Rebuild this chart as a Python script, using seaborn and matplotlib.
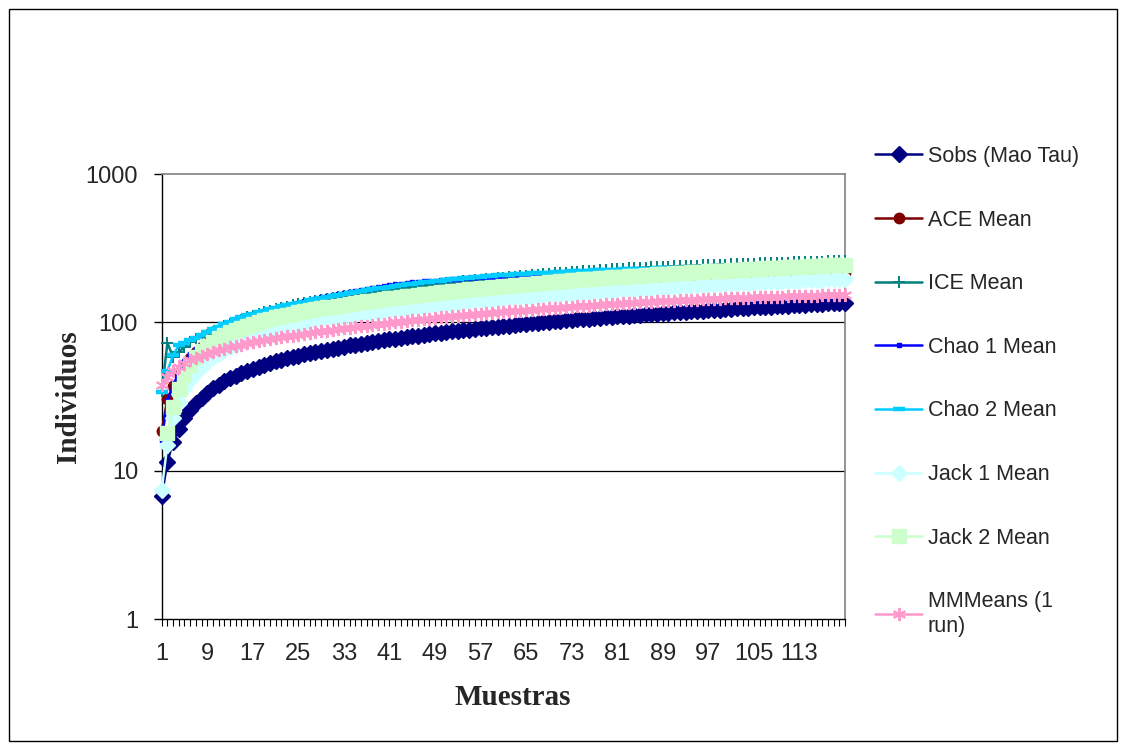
import numpy as np
import pandas as pd
import matplotlib
matplotlib.use("Agg")
import matplotlib.pyplot as plt
import seaborn as sns
from matplotlib.lines import Line2D
from matplotlib.patches import Rectangle
from matplotlib.ticker import FixedLocator, FixedFormatter, NullFormatter

samples = list(range(1, 122))

sobs = [6.7, 11.5, 15.6, 19.2, 22.6, 25.7, 28.6, 31.1, 33.6, 35.9,
        38.0, 40.0, 41.9, 43.7, 45.4, 47.1, 48.7, 50.3, 51.8, 53.2,
        54.6, 55.9, 57.1, 58.4, 59.6, 60.8, 62.0, 63.2, 64.3, 65.4,
        66.5, 67.6, 68.7, 69.8, 70.8, 71.8, 72.9, 73.9, 74.9, 75.8,
        76.8, 77.8, 78.7, 79.7, 80.6, 81.5, 82.4, 83.3, 84.2, 85.1,
        86.0, 86.9, 87.7, 88.6, 89.4, 90.3, 91.1, 91.9, 92.8, 93.6,
        94.4, 95.2, 96.0, 96.8, 97.6, 98.4, 99.2, 99.9, 100.7, 101.5,
        102.2, 103.0, 103.7, 104.5, 105.2, 106.0, 106.7, 107.4, 108.1, 108.9,
        109.6, 110.3, 111.0, 111.7, 112.4, 113.1, 113.8, 114.5, 115.2, 115.9,
        116.6, 117.3, 118.0, 118.6, 119.3, 120.0, 120.6, 121.3, 122.0, 122.6,
        123.3, 124.0, 124.6, 125.3, 125.9, 126.5, 127.2, 127.8, 128.5, 129.1,
        129.7, 130.4, 131.0, 131.6, 132.3, 132.9, 133.5, 134.1, 134.7, 135.3,
        136.0]

ace = [18.4, 30.6, 37.0, 44.5, 51.5, 57.3, 62.9, 67.8, 72.7, 77.2,
       81.4, 85.4, 89.2, 92.7, 96.0, 99.2, 102.3, 105.0, 107.6, 109.9,
       112.1, 114.1, 116.0, 117.9, 119.7, 121.4, 123.1, 124.7, 126.2, 127.5,
       129.1, 130.8, 132.4, 133.9, 135.4, 136.7, 138.2, 139.5, 140.9, 142.0,
       143.2, 144.6, 145.6, 146.9, 148.0, 149.1, 150.2, 151.3, 152.3, 153.4,
       154.4, 155.5, 156.3, 157.3, 158.1, 159.0, 159.9, 160.6, 161.6, 162.3,
       163.0, 163.7, 164.5, 165.2, 165.9, 167.1, 168.3, 169.3, 170.6, 171.7,
       172.7, 174.0, 174.9, 176.2, 177.2, 178.3, 179.4, 180.3, 181.4, 182.5,
       183.5, 184.5, 185.5, 186.5, 187.5, 188.4, 189.5, 190.4, 191.5, 192.4,
       193.3, 194.2, 195.2, 195.9, 196.8, 197.8, 198.5, 199.4, 200.3, 201.1,
       202.0, 202.9, 203.6, 204.5, 205.2, 205.7, 206.3, 206.9, 207.5, 208.0,
       208.4, 209.2, 209.6, 210.0, 210.6, 211.2, 211.6, 212.0, 212.4, 213.0,
       213.5]

ice = [34.2, 72.5, 58.5, 63.4, 67.8, 73.2, 77.2, 79.3, 82.3, 86.2,
       90.3, 94.0, 97.8, 101.3, 104.4, 107.9, 111.0, 114.2, 117.1, 119.7,
       122.6, 125.2, 127.6, 130.2, 132.6, 135.0, 137.3, 139.7, 141.8, 143.9,
       146.0, 148.0, 150.1, 152.2, 154.0, 155.8, 157.8, 159.6, 161.4, 163.0,
       165.0, 167.0, 168.9, 170.9, 172.7, 174.5, 176.3, 178.1, 179.9, 181.7,
       183.5, 185.3, 186.9, 188.6, 190.2, 192.0, 193.6, 195.1, 196.9, 198.4,
       199.9, 201.5, 203.0, 204.5, 206.1, 207.6, 209.1, 210.5, 212.0, 213.5,
       214.8, 216.3, 217.6, 219.1, 220.4, 221.9, 223.2, 224.5, 225.7, 227.3,
       228.5, 229.8, 231.1, 232.3, 233.2, 234.1, 235.0, 235.9, 236.7, 237.6,
       238.4, 239.3, 240.1, 240.8, 241.6, 242.4, 243.0, 243.8, 244.6, 245.2,
       246.1, 246.9, 247.6, 248.3, 249.0, 249.6, 250.5, 251.0, 251.9, 252.4,
       253.0, 253.8, 254.4, 254.9, 255.7, 256.2, 256.9, 257.3, 258.0, 258.4,
       259.8]

chao1 = [16.0, 29.9, 37.0, 46.5, 54.5, 61.2, 66.6, 71.2, 74.6, 77.2,
         82.1, 86.8, 91.3, 95.7, 99.9, 104.1, 108.1, 112.2, 116.0, 119.7,
         123.1, 126.3, 129.3, 132.6, 135.6, 138.6, 141.7, 144.7, 147.6, 150.4,
         153.1, 155.7, 158.4, 161.0, 163.4, 165.8, 168.5, 170.9, 173.3, 175.5,
         177.9, 180.3, 182.6, 184.3, 185.7, 187.1, 188.5, 189.9, 191.3, 192.6,
         193.9, 195.3, 196.3, 197.6, 198.7, 199.8, 200.9, 201.9, 203.0, 204.0,
         205.1, 206.2, 207.2, 208.2, 209.3, 210.3, 211.3, 212.0, 213.0, 214.0,
         214.7, 215.7, 216.3, 217.3, 218.0, 218.9, 219.6, 220.2, 220.8, 221.7,
         222.4, 223.0, 223.6, 224.2, 224.8, 225.3, 225.8, 226.3, 226.7, 227.2,
         227.6, 228.0, 228.4, 228.7, 229.1, 229.4, 229.6, 230.0, 230.3, 230.5,
         231.1, 231.6, 231.9, 232.4, 232.8, 233.1, 233.7, 234.0, 234.4, 234.7,
         235.0, 235.5, 235.8, 236.1, 236.4, 236.7, 237.0, 237.2, 237.5, 237.6,
         238.0]

chao2 = [34.0, 47.0, 60.0, 70.0, 72.0, 76.0, 79.0, 82.0, 86.0, 90.0,
         93.5, 97.0, 101.1, 104.8, 108.1, 111.4, 114.4, 117.3, 120.0, 122.4,
         125.3, 128.0, 130.5, 133.2, 135.6, 138.0, 140.4, 142.8, 145.0, 147.2,
         149.8, 152.3, 154.9, 157.5, 159.9, 162.2, 164.8, 167.2, 169.6, 171.7,
         174.1, 176.5, 178.6, 180.7, 182.5, 184.3, 186.0, 187.8, 189.5, 191.3,
         193.1, 194.8, 196.4, 198.1, 199.5, 201.3, 202.8, 204.3, 206.0, 207.1,
         208.3, 209.4, 210.5, 211.6, 212.7, 213.7, 214.8, 215.6, 216.7, 217.7,
         218.5, 219.5, 220.3, 221.2, 222.1, 223.0, 223.7, 224.5, 225.2, 226.1,
         226.9, 227.5, 228.2, 228.9, 229.5, 230.0, 230.6, 231.1, 231.4, 231.9,
         232.4, 232.8, 233.3, 233.5, 233.9, 234.4, 234.6, 234.8, 235.2, 235.4,
         235.9, 236.5, 236.7, 237.2, 237.6, 237.8, 238.2, 238.6, 239.0, 239.2,
         239.6, 239.9, 240.1, 240.4, 240.8, 240.9, 241.2, 241.4, 241.5, 241.8,
         242.1]

jack1 = [7.4, 15.0, 22.6, 29.2, 35.3, 40.6, 45.8, 50.1, 54.4, 58.2,
         61.6, 64.8, 67.9, 70.8, 73.5, 76.3, 78.9, 81.5, 83.9, 86.2,
         88.4, 90.5, 92.4, 94.5, 96.4, 98.3, 100.2, 102.1, 103.8, 105.3,
         106.7, 108.2, 109.6, 111.1, 112.4, 113.6, 115.0, 116.2, 117.4, 118.5,
         119.7, 121.0, 122.0, 123.5, 124.7, 126.0, 127.2, 128.5, 129.8, 131.1,
         132.4, 133.6, 134.7, 135.9, 137.1, 138.2, 139.4, 140.5, 141.7, 142.8,
         143.9, 145.0, 146.0, 147.1, 148.3, 149.3, 150.4, 151.2, 152.4, 153.4,
         154.3, 155.4, 156.3, 157.4, 158.2, 159.3, 160.2, 161.1, 162.0, 163.0,
         164.0, 164.8, 165.7, 166.5, 167.5, 168.4, 169.3, 170.3, 171.2, 172.0,
         172.9, 173.8, 174.8, 175.5, 176.4, 177.4, 178.1, 179.0, 180.0, 180.6,
         181.5, 182.4, 183.2, 184.1, 184.8, 185.6, 186.5, 187.1, 188.0, 188.7,
         189.5, 190.4, 191.1, 191.9, 192.8, 193.5, 194.1, 194.8, 195.6, 196.3,
         197.2]

jack2 = [np.nan, 17.9, 27.0, 35.5, 44.1, 51.4, 58.1, 63.8, 68.9, 73.6,
         77.9, 82.0, 85.5, 88.7, 91.7, 94.7, 97.4, 100.3, 103.0, 105.5,
         108.0, 110.2, 112.3, 114.5, 116.6, 118.6, 120.5, 122.5, 124.2, 126.0,
         127.7, 129.6, 131.4, 133.3, 135.0, 136.6, 138.5, 140.2, 141.8, 143.3,
         144.9, 146.5, 148.0, 149.8, 151.4, 153.0, 154.6, 156.2, 157.8, 159.4,
         161.0, 162.6, 163.9, 165.5, 166.9, 168.5, 169.9, 171.3, 172.9, 174.3,
         175.7, 177.1, 178.5, 179.9, 181.2, 182.7, 184.1, 185.3, 186.7, 188.1,
         189.3, 190.7, 191.8, 193.3, 194.5, 195.9, 197.1, 198.3, 199.4, 200.8,
         202.0, 203.3, 204.5, 205.6, 206.8, 208.0, 209.2, 210.3, 211.5, 212.6,
         213.7, 214.9, 216.1, 217.0, 218.2, 219.4, 220.3, 221.5, 222.7, 223.5,
         224.7, 225.8, 226.8, 227.9, 228.9, 229.8, 231.0, 231.8, 233.0, 233.9,
         234.9, 236.0, 237.0, 237.9, 239.1, 240.0, 240.8, 241.8, 242.7, 243.7,
         244.8]

mmmeans = [38.0, 43.0, 47.0, 50.0, 53.0, 55.5, 57.5, 59.5, 61.5, 63.2,
           64.8, 66.4, 68.0, 69.4, 70.7, 72.0, 73.2, 74.4, 75.6, 76.8,
           78.0, 79.2, 80.3, 81.4, 82.5, 83.6, 84.7, 85.8, 86.9, 88.0,
           89.0, 90.0, 91.0, 92.0, 93.0, 94.0, 95.0, 96.0, 97.0, 98.0,
           99.0, 100.0, 101.0, 102.0, 103.0, 104.0, 105.0, 106.0, 106.9, 107.8,
           108.7, 109.6, 110.5, 111.4, 112.3, 113.2, 114.1, 115.0, 115.9, 116.8,
           117.6, 118.4, 119.2, 120.0, 120.8, 121.6, 122.4, 123.2, 124.0, 124.8,
           125.6, 126.4, 127.2, 128.0, 128.8, 129.6, 130.4, 131.2, 132.0, 132.8,
           133.6, 134.4, 135.2, 136.0, 136.8, 137.4, 137.9, 138.5, 139.0, 139.6,
           140.1, 140.7, 141.2, 141.8, 142.3, 142.9, 143.4, 144.0, 144.5, 145.0,
           145.4, 145.8, 146.2, 146.7, 147.1, 147.5, 147.9, 148.3, 148.8, 149.2,
           149.6, 150.0, 150.4, 150.8, 151.2, 151.6, 152.0, 152.4, 152.8, 153.2,
           153.6]

series_names = ["Sobs (Mao Tau)", "ACE Mean", "ICE Mean", "Chao 1 Mean",
                "Chao 2 Mean", "Jack 1 Mean", "Jack 2 Mean", "MMMeans (1\nrun)"]
x_tick_labels = [1, 9, 17, 25, 33, 41, 49, 57, 65, 73, 81, 89, 97, 105, 113]
y_ticks = [1, 10, 100, 1000]

sns.set_theme(style="white")
plt.rcParams["font.family"] = ["Liberation Sans", "DejaVu Sans"]

fig = plt.figure(figsize=(11.23, 7.49), dpi=100)
ax = fig.add_axes([161.7 / 1123, 1 - 619 / 749, (845 - 161.7) / 1123, (619 - 174) / 749])

styles = [
    dict(color="#000080", marker="D", markersize=8, mfc="#000080", mec="#000080", mew=1),
    dict(color="#800000", marker="o", markersize=7.5, mfc="#800000", mec="#800000", mew=1),
    dict(color="#008080", marker="+", markersize=9, mfc="#008080", mec="#008080", mew=1.4),
    dict(color="#0000FF", marker="s", markersize=3.5, mfc="#0000FF", mec="#0000FF", mew=1),
    dict(color="#00CCFF", marker="_", markersize=8, mfc="#00CCFF", mec="#00CCFF", mew=3.2),
    dict(color="#CCFFFF", marker="D", markersize=8, mfc="#CCFFFF", mec="#CCFFFF", mew=1),
    dict(color="#CCFFCC", marker="s", markersize=10.5, mfc="#CCFFCC", mec="#CCFFCC", mew=1),
    dict(color="#FF99CC", marker=(6, 2, 0), markersize=9.5, mfc="#FF99CC", mec="#FF99CC", mew=1.4),
]
all_values = [sobs, ace, ice, chao1, chao2, jack1, jack2, mmmeans]

handles = []
for i, (name, vals, st) in enumerate(zip(series_names, all_values, styles)):
    df = pd.DataFrame({"Muestra": samples, "Valor": vals}).dropna()
    sns.lineplot(data=df, x="Muestra", y="Valor", ax=ax, color=st["color"],
                 marker=st["marker"], markersize=st["markersize"],
                 markerfacecolor=st["mfc"], markeredgecolor=st["mec"],
                 markeredgewidth=st["mew"], linewidth=1.8, legend=False,
                 zorder=3 + i, clip_on=False)
    handles.append(Line2D([0], [0], color=st["color"], marker=st["marker"],
                          markersize=st["markersize"], markerfacecolor=st["mfc"],
                          markeredgecolor=st["mec"], markeredgewidth=st["mew"],
                          linewidth=1.8))

ax.set_yscale("log")
ax.set_ylim(1, 1000)
ax.set_xlim(1, 121)

ax.yaxis.set_major_locator(FixedLocator(y_ticks))
ax.yaxis.set_major_formatter(FixedFormatter([str(v) for v in y_ticks]))
ax.yaxis.set_minor_locator(FixedLocator([]))
ax.xaxis.set_major_locator(FixedLocator(x_tick_labels))
ax.xaxis.set_major_formatter(FixedFormatter([str(v) for v in x_tick_labels]))
ax.xaxis.set_minor_locator(FixedLocator(samples))
ax.xaxis.set_minor_formatter(NullFormatter())

ax.tick_params(axis="y", which="major", direction="out", length=6, width=1,
               color="black", labelsize=17, pad=11, left=True)
ax.tick_params(axis="x", which="both", direction="out", length=5, width=0.8,
               color="black", labelsize=17, pad=12, bottom=True)

ax.grid(False)
for yv in [10, 100]:
    ax.axhline(yv, color="black", linewidth=0.9, zorder=1)

for side in ["left", "bottom"]:
    ax.spines[side].set_color("black")
    ax.spines[side].set_linewidth(1.0)
for side in ["top", "right"]:
    ax.spines[side].set_color("#808080")
    ax.spines[side].set_linewidth(1.2)
    ax.spines[side].set_visible(True)

ax.set_xlabel("Muestras", fontfamily="Liberation Serif", fontweight="bold",
              fontsize=21)
ax.set_ylabel("Individuos", fontfamily="Liberation Serif", fontweight="bold",
              fontsize=21)
ax.xaxis.set_label_coords((513 - 161.7) / (845 - 161.7), -(684 - 619) / (619 - 174))
ax.yaxis.set_label_coords(-(161.7 - 82) / (845 - 161.7), 0.5)

fig.legend(handles, series_names, loc="upper left",
           bbox_to_anchor=(875 / 1123, 1 - 146 / 749), frameon=False,
           fontsize=15.5, handlelength=2.2, handletextpad=0.25,
           labelspacing=1.98, borderaxespad=0, borderpad=0)

fig.patches.append(Rectangle((9 / 1123, 1 - 741 / 749), (1117 - 9) / 1123,
                             (741 - 9) / 749, transform=fig.transFigure,
                             fill=False, edgecolor="black", linewidth=1.0))

fig.savefig("out.png", dpi=100, facecolor="white")
